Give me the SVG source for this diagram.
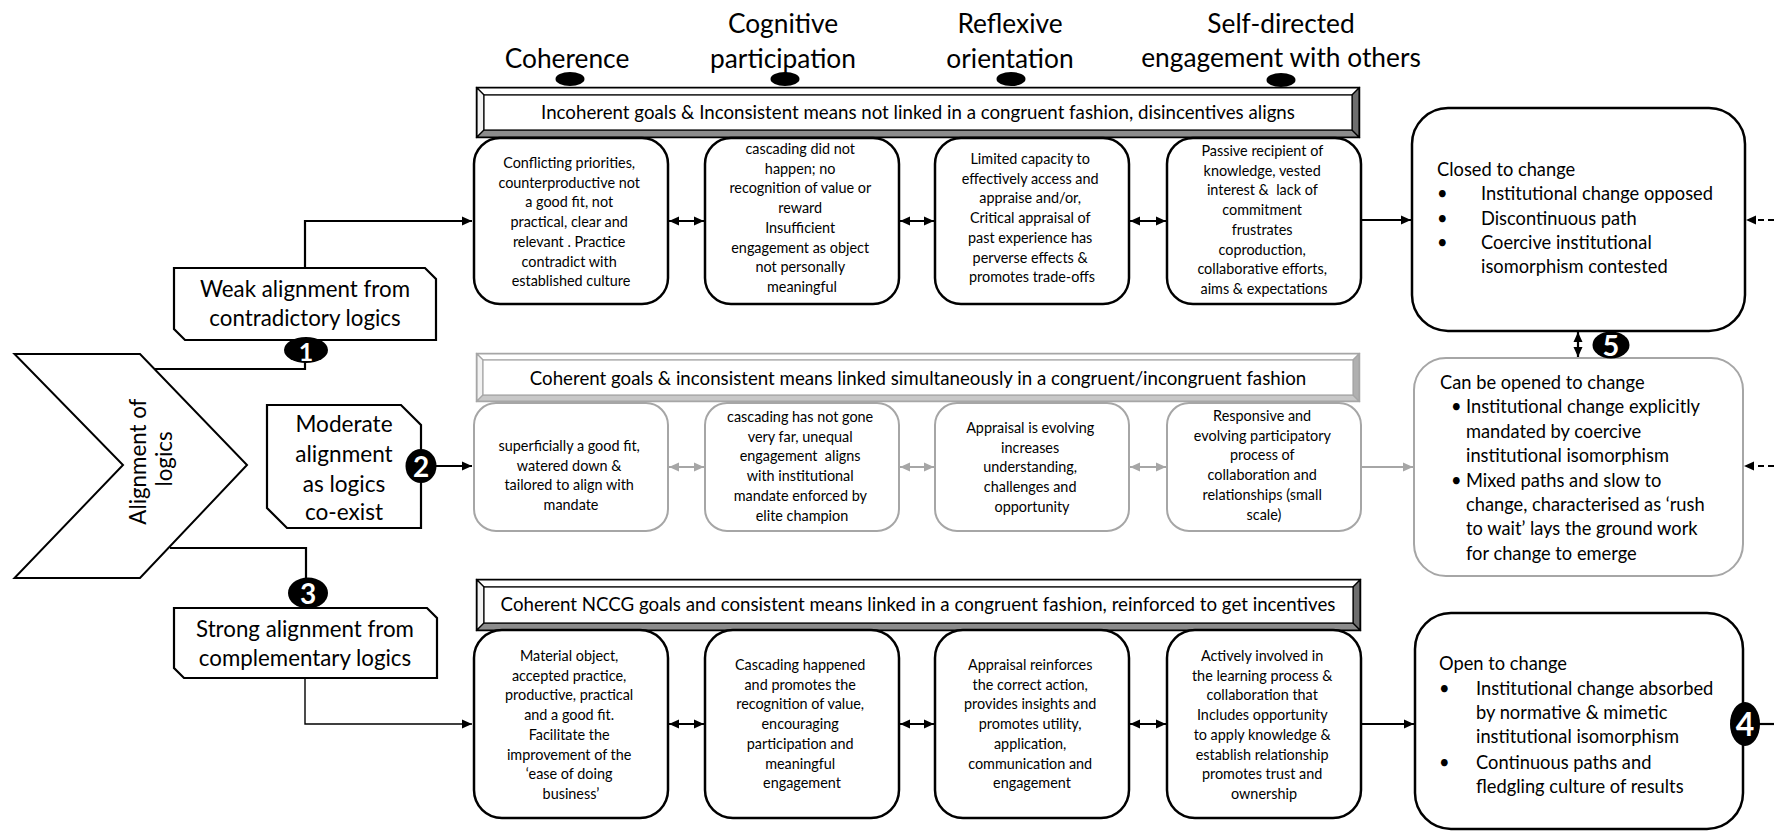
<svg xmlns="http://www.w3.org/2000/svg" width="1774" height="832" viewBox="0 0 1774 832">
  <style>
    text { font-family: Lato, "Open Sans", "Liberation Sans", sans-serif; fill: #000; }
    .hd { font-size: 26.3px; text-anchor: middle; }
    .bn { font-size: 18.7px; text-anchor: middle; }
    .bx { font-size: 14.4px; text-anchor: middle; }
    .lb { font-size: 22.3px; text-anchor: middle; }
    .md { font-size: 22.6px; text-anchor: middle; }
    .rt { font-size: 18.3px; }
    .num { font-size: 28px; font-weight: bold; fill: #fff; text-anchor: middle; }
    .card { fill: #fff; stroke: #000; stroke-width: 2.5; }
    .card-g { fill: #fff; stroke: #a6a6a6; stroke-width: 2; }
    .tag { fill: #fff; stroke: #000; stroke-width: 2.2; }
    .badge { fill: #000; }
    .ln { fill: none; stroke: #000; stroke-width: 2.2; }
    .ln-thin { fill: none; stroke: #000; stroke-width: 1.4; }
    .ln-g { fill: none; stroke: #a6a6a6; stroke-width: 2.2; }
    .dash { fill: none; stroke: #000; stroke-width: 2; stroke-dasharray: 6 4; }
    .face { stroke: #000; stroke-width: 1.2; }
    .face-g { stroke: #a6a6a6; stroke-width: 1.2; }
  </style>
  <defs>
    <marker id="ah" viewBox="0 0 10 10" refX="10" refY="5" markerUnits="userSpaceOnUse" markerWidth="10" markerHeight="10" orient="auto-start-reverse">
      <path d="M0,0.5 L10,5 L0,9.5 Z" fill="#000"/>
    </marker>
    <marker id="ahg" viewBox="0 0 10 10" refX="10" refY="5" markerUnits="userSpaceOnUse" markerWidth="10" markerHeight="10" orient="auto-start-reverse">
      <path d="M0,0.5 L10,5 L0,9.5 Z" fill="#a6a6a6"/>
    </marker>
  </defs>
  <rect width="1774" height="832" fill="#fff"/>

  <!-- column headings with their markers -->
  <g id="heading-coherence">
    <text class="hd" x="567" y="68">Coherence</text>
    <ellipse cx="570" cy="79" rx="14.5" ry="7" fill="#000"/>
  </g>
  <g id="heading-cognitive">
    <text class="hd" x="783" y="33">Cognitive</text>
    <text class="hd" x="783" y="68">participation</text>
    <ellipse cx="785" cy="79" rx="14.5" ry="7" fill="#000"/>
  </g>
  <g id="heading-reflexive">
    <text class="hd" x="1010" y="33">Reflexive</text>
    <text class="hd" x="1010" y="68">orientation</text>
    <ellipse cx="1011" cy="79" rx="14.5" ry="7" fill="#000"/>
  </g>
  <g id="heading-self-directed">
    <text class="hd" x="1281" y="33">Self-directed</text>
    <text class="hd" x="1281" y="67">engagement with others</text>
    <ellipse cx="1281" cy="80" rx="14.5" ry="7" fill="#000"/>
  </g>

  <!-- bevelled banners -->
  <g id="banner-incoherent">
    <rect x="477" y="88" width="882" height="49" fill="#fff" stroke="#000" stroke-width="2.5"/>
    <polygon class="face" points="477,88 1359,88 1352,95 484,95" fill="#fff"/>
    <polygon class="face" points="477,88 484,95 484,130 477,137" fill="#f2f2f2"/>
    <polygon class="face" points="477,137 484,130 1352,130 1359,137" fill="#8c8c8c"/>
    <polygon class="face" points="1359,88 1359,137 1352,130 1352,95" fill="#6e6e6e"/>
    <rect x="484" y="95" width="868" height="35" fill="#fff" stroke="#000" stroke-width="1.2"/>
    <text class="bn" x="918" y="118.5">Incoherent goals &amp; Inconsistent means not linked in a congruent fashion, disincentives aligns</text>
  </g>
  <g id="banner-coherent-inconsistent">
    <rect x="477" y="354" width="882" height="47" fill="#fff" stroke="#a6a6a6" stroke-width="2.5"/>
    <polygon class="face-g" points="477,354 1359,354 1353,360 483,360" fill="#fff"/>
    <polygon class="face-g" points="477,354 483,360 483,395 477,401" fill="#f2f2f2"/>
    <polygon class="face-g" points="477,401 483,395 1353,395 1359,401" fill="#c8c8c8"/>
    <polygon class="face-g" points="1359,354 1359,401 1353,395 1353,360" fill="#b0b0b0"/>
    <rect x="483" y="360" width="870" height="35" fill="#fff" stroke="#a6a6a6" stroke-width="1.2"/>
    <text class="bn" x="918" y="384.5">Coherent goals &amp; inconsistent means linked simultaneously in a congruent/incongruent fashion</text>
  </g>
  <g id="banner-coherent-consistent">
    <rect x="477" y="580" width="883" height="50" fill="#fff" stroke="#000" stroke-width="2.5"/>
    <polygon class="face" points="477,580 1360,580 1353,587 484,587" fill="#fff"/>
    <polygon class="face" points="477,580 484,587 484,623 477,630" fill="#f2f2f2"/>
    <polygon class="face" points="477,630 484,623 1353,623 1360,630" fill="#8c8c8c"/>
    <polygon class="face" points="1360,580 1360,630 1353,623 1353,587" fill="#6e6e6e"/>
    <rect x="484" y="587" width="869" height="36" fill="#fff" stroke="#000" stroke-width="1.2"/>
    <text class="bn" x="918" y="611">Coherent NCCG goals and consistent means linked in a congruent fashion, reinforced to get incentives</text>
  </g>

  <!-- weak alignment row -->
  <g id="weak-coherence">
    <rect class="card" x="474" y="138" width="194" height="166" rx="26"/>
    <text class="bx" x="571" y="168">
      <tspan x="571">Conflicting priorities,</tspan>
      <tspan x="571" dy="19.7">counterproductive not</tspan>
      <tspan x="571" dy="19.7">a good fit, not</tspan>
      <tspan x="571" dy="19.7">practical, clear and</tspan>
      <tspan x="571" dy="19.7">relevant . Practice</tspan>
      <tspan x="571" dy="19.7">contradict with</tspan>
      <tspan x="571" dy="19.7">established culture</tspan>
    </text>
  </g>
  <g id="weak-cognitive">
    <rect class="card" x="705" y="138" width="194" height="166" rx="26"/>
    <text class="bx" x="802" y="154">
      <tspan x="802">cascading did not</tspan>
      <tspan x="802" dy="19.7">happen; no</tspan>
      <tspan x="802" dy="19.7">recognition of value or</tspan>
      <tspan x="802" dy="19.7">reward</tspan>
      <tspan x="802" dy="19.7">Insufficient</tspan>
      <tspan x="802" dy="19.7">engagement as object</tspan>
      <tspan x="802" dy="19.7">not personally</tspan>
      <tspan x="802" dy="19.7">meaningful</tspan>
    </text>
  </g>
  <g id="weak-reflexive">
    <rect class="card" x="935" y="138" width="194" height="166" rx="26"/>
    <text class="bx" x="1032" y="164">
      <tspan x="1032">Limited capacity to</tspan>
      <tspan x="1032" dy="19.7">effectively access and</tspan>
      <tspan x="1032" dy="19.7">appraise and/or,</tspan>
      <tspan x="1032" dy="19.7">Critical appraisal of</tspan>
      <tspan x="1032" dy="19.7">past experience has</tspan>
      <tspan x="1032" dy="19.7">perverse effects &amp;</tspan>
      <tspan x="1032" dy="19.7">promotes trade-offs</tspan>
    </text>
  </g>
  <g id="weak-engagement">
    <rect class="card" x="1167" y="138" width="194" height="166" rx="26"/>
    <text class="bx" x="1264" y="156">
      <tspan x="1264">Passive recipient of</tspan>
      <tspan x="1264" dy="19.7">knowledge, vested</tspan>
      <tspan x="1264" dy="19.7" xml:space="preserve">interest &amp;  lack of</tspan>
      <tspan x="1264" dy="19.7">commitment</tspan>
      <tspan x="1264" dy="19.7">frustrates</tspan>
      <tspan x="1264" dy="19.7">coproduction,</tspan>
      <tspan x="1264" dy="19.7">collaborative efforts,</tspan>
      <tspan x="1264" dy="19.7">aims &amp; expectations</tspan>
    </text>
  </g>

  <!-- moderate alignment row -->
  <g id="moderate-coherence">
    <rect class="card-g" x="474" y="403" width="194" height="128" rx="22"/>
    <text class="bx" x="571" y="451">
      <tspan x="571">superficially a good fit,</tspan>
      <tspan x="571" dy="19.7">watered down &amp;</tspan>
      <tspan x="571" dy="19.7">tailored to align with</tspan>
      <tspan x="571" dy="19.7">mandate</tspan>
    </text>
  </g>
  <g id="moderate-cognitive">
    <rect class="card-g" x="705" y="403" width="194" height="128" rx="22"/>
    <text class="bx" x="802" y="422">
      <tspan x="802">cascading has not gone</tspan>
      <tspan x="802" dy="19.7">very far, unequal</tspan>
      <tspan x="802" dy="19.7" xml:space="preserve">engagement  aligns</tspan>
      <tspan x="802" dy="19.7">with institutional</tspan>
      <tspan x="802" dy="19.7">mandate enforced by</tspan>
      <tspan x="802" dy="19.7">elite champion</tspan>
    </text>
  </g>
  <g id="moderate-reflexive">
    <rect class="card-g" x="935" y="403" width="194" height="128" rx="22"/>
    <text class="bx" x="1032" y="433">
      <tspan x="1032">Appraisal is evolving</tspan>
      <tspan x="1032" dy="19.7">increases</tspan>
      <tspan x="1032" dy="19.7">understanding,</tspan>
      <tspan x="1032" dy="19.7">challenges and</tspan>
      <tspan x="1032" dy="19.7">opportunity</tspan>
    </text>
  </g>
  <g id="moderate-engagement">
    <rect class="card-g" x="1167" y="403" width="194" height="128" rx="22"/>
    <text class="bx" x="1264" y="421">
      <tspan x="1264">Responsive and</tspan>
      <tspan x="1264" dy="19.7">evolving participatory</tspan>
      <tspan x="1264" dy="19.7">process of</tspan>
      <tspan x="1264" dy="19.7">collaboration and</tspan>
      <tspan x="1264" dy="19.7">relationships (small</tspan>
      <tspan x="1264" dy="19.7">scale)</tspan>
    </text>
  </g>

  <!-- strong alignment row -->
  <g id="strong-coherence">
    <rect class="card" x="474" y="630" width="194" height="188" rx="28"/>
    <text class="bx" x="571" y="661">
      <tspan x="571">Material object,</tspan>
      <tspan x="571" dy="19.7">accepted practice,</tspan>
      <tspan x="571" dy="19.7">productive, practical</tspan>
      <tspan x="571" dy="19.7">and a good fit.</tspan>
      <tspan x="571" dy="19.7">Facilitate the</tspan>
      <tspan x="571" dy="19.7">improvement of the</tspan>
      <tspan x="571" dy="19.7">‘ease of doing</tspan>
      <tspan x="571" dy="19.7">business’</tspan>
    </text>
  </g>
  <g id="strong-cognitive">
    <rect class="card" x="705" y="630" width="194" height="188" rx="28"/>
    <text class="bx" x="802" y="670">
      <tspan x="802">Cascading happened</tspan>
      <tspan x="802" dy="19.7">and promotes the</tspan>
      <tspan x="802" dy="19.7">recognition of value,</tspan>
      <tspan x="802" dy="19.7">encouraging</tspan>
      <tspan x="802" dy="19.7">participation and</tspan>
      <tspan x="802" dy="19.7">meaningful</tspan>
      <tspan x="802" dy="19.7">engagement</tspan>
    </text>
  </g>
  <g id="strong-reflexive">
    <rect class="card" x="935" y="630" width="194" height="188" rx="28"/>
    <text class="bx" x="1032" y="670">
      <tspan x="1032">Appraisal reinforces</tspan>
      <tspan x="1032" dy="19.7">the correct action,</tspan>
      <tspan x="1032" dy="19.7">provides insights and</tspan>
      <tspan x="1032" dy="19.7">promotes utility,</tspan>
      <tspan x="1032" dy="19.7">application,</tspan>
      <tspan x="1032" dy="19.7">communication and</tspan>
      <tspan x="1032" dy="19.7">engagement</tspan>
    </text>
  </g>
  <g id="strong-engagement">
    <rect class="card" x="1167" y="630" width="194" height="188" rx="28"/>
    <text class="bx" x="1264" y="661">
      <tspan x="1264">Actively involved in</tspan>
      <tspan x="1264" dy="19.7">the learning process &amp;</tspan>
      <tspan x="1264" dy="19.7">collaboration that</tspan>
      <tspan x="1264" dy="19.7">Includes opportunity</tspan>
      <tspan x="1264" dy="19.7">to apply knowledge &amp;</tspan>
      <tspan x="1264" dy="19.7">establish relationship</tspan>
      <tspan x="1264" dy="19.7">promotes trust and</tspan>
      <tspan x="1264" dy="19.7">ownership</tspan>
    </text>
  </g>

  <!-- outcome boxes -->
  <g id="closed-to-change">
    <rect class="card" x="1412" y="108" width="333" height="223" rx="36"/>
    <text class="rt" x="1437" y="176">Closed to change</text>
    <text class="rt" x="1437" y="200">•</text>
    <text class="rt" x="1481" y="200">Institutional change opposed</text>
    <text class="rt" x="1437" y="225">•</text>
    <text class="rt" x="1481" y="225">Discontinuous path</text>
    <text class="rt" x="1437" y="249">•</text>
    <text class="rt" x="1481" y="249">Coercive institutional</text>
    <text class="rt" x="1481" y="273">isomorphism contested</text>
  </g>
  <g id="can-be-opened">
    <rect class="card-g" x="1414" y="358" width="329" height="218" rx="32"/>
    <text class="rt" x="1440" y="389">Can be opened to change</text>
    <text class="rt" x="1451" y="413">•</text>
    <text class="rt" x="1466" y="413">Institutional change explicitly</text>
    <text class="rt" x="1466" y="438">mandated by coercive</text>
    <text class="rt" x="1466" y="462">institutional isomorphism</text>
    <text class="rt" x="1451" y="487">•</text>
    <text class="rt" x="1466" y="487">Mixed paths and slow to</text>
    <text class="rt" x="1466" y="511">change, characterised as ‘rush</text>
    <text class="rt" x="1466" y="535">to wait’ lays the ground work</text>
    <text class="rt" x="1466" y="560">for change to emerge</text>
  </g>
  <g id="open-to-change">
    <rect class="card" x="1415" y="613" width="328" height="216" rx="36"/>
    <text class="rt" x="1439" y="670">Open to change</text>
    <text class="rt" x="1439" y="695">•</text>
    <text class="rt" x="1476" y="695">Institutional change absorbed</text>
    <text class="rt" x="1476" y="719">by normative &amp; mimetic</text>
    <text class="rt" x="1476" y="743">institutional isomorphism</text>
    <text class="rt" x="1439" y="769">•</text>
    <text class="rt" x="1476" y="769">Continuous paths and</text>
    <text class="rt" x="1476" y="793">fledgling culture of results</text>
  </g>

  <!-- alignment chevron and alignment labels -->
  <g id="alignment-of-logics">
    <path d="M14.5,354 H140 L247,465 L140,578 H14.5 L123,465 Z" fill="#fff" stroke="#000" stroke-width="2"/>
    <text class="lb" transform="translate(146,459) rotate(-90)">
      <tspan x="0" y="0">Alignment of</tspan>
      <tspan x="0" y="26">logics</tspan>
    </text>
  </g>
  <g id="weak-alignment">
    <path class="tag" d="M174,268 H425 L436,279 V340 H185 L174,329 Z"/>
    <text class="lb" x="305" y="297">Weak alignment from</text>
    <text class="lb" x="305" y="326">contradictory logics</text>
  </g>
  <g id="moderate-alignment">
    <path class="tag" d="M267,405 H401 L421,425 V528 H287 L267,508 Z"/>
    <text class="md" x="344" y="432">Moderate</text>
    <text class="md" x="344" y="462">alignment</text>
    <text class="md" x="344" y="492">as logics</text>
    <text class="md" x="344" y="520">co-exist</text>
  </g>
  <g id="strong-alignment">
    <path class="tag" d="M174,608 H427 L437,618 V678 H184 L174,668 Z"/>
    <text class="lb" x="305" y="637">Strong alignment from</text>
    <text class="lb" x="305" y="666">complementary logics</text>
  </g>

  <!-- connectors -->
  <g id="connectors">
    <path class="ln" d="M155,369 H305 V362"/>
    <path class="ln" d="M305,268 V221 H472" marker-end="url(#ah)"/>
    <path class="ln" d="M436,466 H472" marker-end="url(#ah)"/>
    <path class="ln" d="M170,548 H306 V578"/>
    <path class="ln-thin" d="M305,678 V724 H472" marker-end="url(#ah)"/>

    <path class="ln" d="M669,221 H704" marker-start="url(#ah)" marker-end="url(#ah)"/>
    <path class="ln" d="M900,221 H934" marker-start="url(#ah)" marker-end="url(#ah)"/>
    <path class="ln" d="M1130,221 H1166" marker-start="url(#ah)" marker-end="url(#ah)"/>
    <path class="ln" d="M1362,220 H1411" marker-end="url(#ah)"/>

    <path class="ln-g" d="M669,467 H704" marker-start="url(#ahg)" marker-end="url(#ahg)"/>
    <path class="ln-g" d="M900,467 H934" marker-start="url(#ahg)" marker-end="url(#ahg)"/>
    <path class="ln-g" d="M1130,467 H1166" marker-start="url(#ahg)" marker-end="url(#ahg)"/>
    <path class="ln-g" d="M1362,467 H1413" marker-end="url(#ahg)"/>

    <path class="ln" d="M669,724 H704" marker-start="url(#ah)" marker-end="url(#ah)"/>
    <path class="ln" d="M900,724 H934" marker-start="url(#ah)" marker-end="url(#ah)"/>
    <path class="ln" d="M1130,724 H1166" marker-start="url(#ah)" marker-end="url(#ah)"/>
    <path class="ln" d="M1362,724 H1414" marker-end="url(#ah)"/>

    <path class="ln" d="M1578,332 V357" marker-start="url(#ah)" marker-end="url(#ah)"/>
    <path class="dash" d="M1774,220 H1746" marker-end="url(#ah)"/>
    <path class="dash" d="M1774,466 H1744" marker-end="url(#ah)"/>
    <path class="ln" d="M1758,724 H1774"/>
  </g>

  <!-- numbered badges -->
  <g id="badge-1">
    <ellipse class="badge" cx="306" cy="350" rx="22" ry="13"/>
    <text class="num" x="306" y="361" style="font-size:25px">1</text>
  </g>
  <g id="badge-2">
    <ellipse class="badge" cx="421" cy="466" rx="15.5" ry="17"/>
    <text class="num" x="421" y="477">2</text>
  </g>
  <g id="badge-3">
    <ellipse class="badge" cx="308" cy="593" rx="20" ry="15.5"/>
    <text class="num" x="308" y="604">3</text>
  </g>
  <g id="badge-4">
    <ellipse class="badge" cx="1745" cy="724" rx="15" ry="22"/>
    <text class="num" x="1745" y="736" style="font-size:32px">4</text>
  </g>
  <g id="badge-5">
    <ellipse class="badge" cx="1611" cy="345" rx="18.5" ry="13.5"/>
    <text class="num" x="1611" y="356" style="font-size:29px">5</text>
  </g>
</svg>
